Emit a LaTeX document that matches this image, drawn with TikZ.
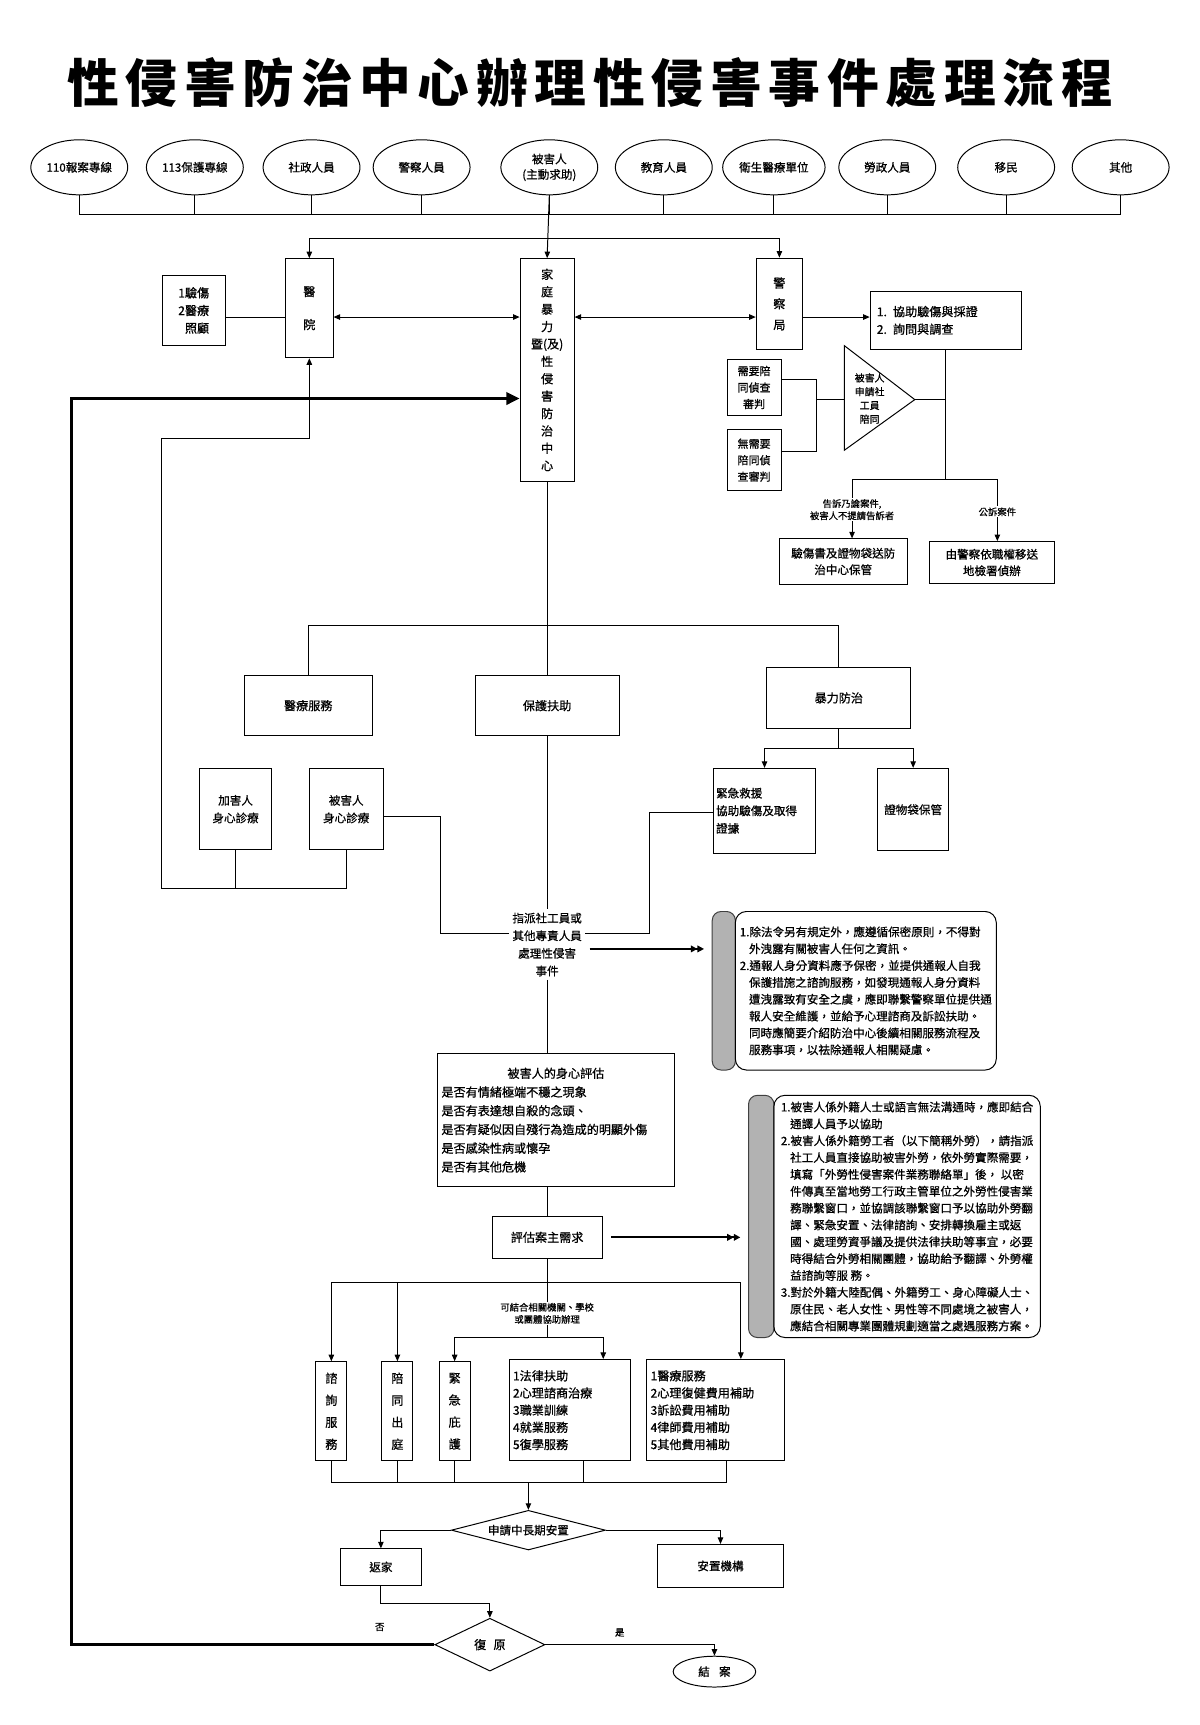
\documentclass[tikz,border=0pt]{standalone}
\usepackage{fontspec}
\setmainfont{Noto Sans CJK TC}[FakeBold=0.7]
\newfontfamily\titlefont{Noto Sans CJK TC}[LetterSpace=13]
\usetikzlibrary{arrows.meta,shapes.geometric}
\begin{document}
\begin{tikzpicture}[x=1pt,y=-1pt,
  every node/.style={font=\fontsize{10.5}{13}\selectfont, inner sep=1pt},
  box/.style={draw, line width=0.9pt, align=center, inner sep=2pt},
  ell/.style={draw, ellipse, line width=0.9pt, minimum width=88pt, minimum height=50pt, inner sep=0pt, align=center},
  ln/.style={line width=0.9pt},
  arr/.style={ln, -{Triangle[length=6pt,width=5pt]}},
  darr/.style={ln, {Triangle[length=6pt,width=5pt]}-{Triangle[length=6pt,width=5pt]}},
  dbl/.style={line width=1.6pt, -{Triangle[length=6pt,width=6pt]Triangle[length=6pt,width=6pt]}},
  fat/.style={line width=2.8pt, line join=miter, -{Triangle[length=12pt,width=11pt]}},
  lbl/.style={fill=white, font=\fontsize{8.5}{11}\selectfont, align=center, inner sep=1pt},
  vt/.style={box, font=\fontsize{11}{20}\selectfont, minimum width=28pt, minimum height=90pt},
  tab/.style={draw=gray!50!black, fill=gray!60, rounded corners=8pt, line width=0.9pt},
  note/.style={draw, line width=0.9pt, rounded corners=10pt, align=left, font=\fontsize{10.5}{15.3}\selectfont},
]
\useasboundingbox (0,0) rectangle (1090,1567);
\fill[white] (0,0) rectangle (1090,1567);

% title
\node[font={\titlefont\bfseries\fontsize{47}{50}\selectfont}] (title) at (536,75) {性侵害防治中心辦理性侵害事件處理流程};

% sources
\node[ell] (e1) at (72,152) {110報案專線};
\node[ell] (e2) at (177,152) {113保護專線};
\node[ell] (e3) at (283,152) {社政人員};
\node[ell] (e4) at (383,152) {警察人員};
\node[ell, font=\fontsize{10.5}{14}\selectfont] (e5) at (499,152) {被害人\\(主動求助)};
\node[ell] (e6) at (603,152) {教育人員};
\node[ell, minimum width=93pt] (e7) at (703,152) {衛生醫療單位};
\node[ell] (e8) at (806,152) {勞政人員};
\node[ell] (e9) at (914,152) {移民};
\node[ell] (e10) at (1018,152) {其他};

\coordinate (bus1) at (0,195);
\coordinate (bus2) at (0,217);
\coordinate (r1) at (0,288);

% top row boxes
\node[box, minimum width=43pt, minimum height=90pt, font=\fontsize{11}{30}\selectfont] (hosp) at (281,280) {醫\\院};
\node[box, minimum width=57pt, minimum height=63pt, align=right, font=\fontsize{11}{16}\selectfont] (care) at (176,282) {1驗傷\\2醫療\\照顧};
\node[box, minimum width=49pt, minimum height=202pt, font=\fontsize{11}{15.8}\selectfont] (fam) at (497,336) {家\\庭\\暴\\力\\暨(及)\\性\\侵\\害\\防\\治\\中\\心};
\node[box, minimum width=42pt, minimum height=83pt, font=\fontsize{11}{19}\selectfont] (police) at (708,276) {警\\察\\局};
\node[box, minimum width=137pt, minimum height=53pt, text width=125pt, align=left, font=\fontsize{11}{16}\selectfont] (inv) at (859,291) {1. 協助驗傷與採證\\2. 詢問與調查};

\foreach \n in {e1,e2,e3,e4,e5,e6,e7,e8,e9,e10} \draw[ln] (\n.south) -- (\n.south |- bus1);
\draw[ln] (e1.south |- bus1) -- (e10.south |- bus1);
\draw[arr] (e5.south) -- (fam.north);
\draw[arr] (e5.south |- bus2) -| (hosp.north);
\draw[arr] (e5.south |- bus2) -| (police.north);

\draw[ln] (care.east |- r1) -- (hosp.west |- r1);
\draw[darr] (hosp.east |- r1) -- (fam.west |- r1);
\draw[darr] (fam.east |- r1) -- (police.west |- r1);
\draw[arr] (police.east |- r1) -- (inv.west |- r1);

% triangle and accompany boxes
\coordinate (tA) at (767,314);
\coordinate (tB) at (767,409);
\coordinate (tip) at (831,363);
\draw[ln, line join=miter] (tA) -- (tip) -- (tB) -- cycle;
\node[font=\fontsize{9}{12.5}\selectfont, align=center] (tritext) at (790,362) {被害人\\申請社\\工員\\陪同};

\node[box, minimum width=49pt, minimum height=51pt, font=\fontsize{10}{15}\selectfont] (need) at (685,352) {需要陪\\同偵查\\審判};
\node[box, minimum width=49pt, minimum height=55pt, font=\fontsize{10}{15}\selectfont] (noneed) at (685,418) {無需要\\陪同偵\\查審判};
\coordinate (bx) at (742,363);
\draw[ln] ([yshift=7pt]need.east) -| (bx);
\draw[ln] ([yshift=8pt]noneed.east) -| (bx);
\draw[ln] (bx) -- (bx -| tA);

\node[box, minimum width=116pt, minimum height=41pt, font=\fontsize{10.5}{15}\selectfont] (caseL) at (766,510) {驗傷書及證物袋送防\\治中心保管};
\node[box, minimum width=113pt, minimum height=38pt, font=\fontsize{10.5}{15}\selectfont] (caseR) at (901,511) {由警察依職權移送\\地檢署偵辦};

\coordinate (br) at (859,436);
\draw[ln] (tip) -- (tip -| inv.south);
\draw[ln] (inv.south) -- (br);
\draw[arr] (br) -| ([xshift=8pt]caseL.north);
\draw[arr] (br) -| ([xshift=5pt]caseR.north);
\node[lbl] (lblL) at (774,463) {告訴乃論案件,\\被害人不提請告訴者};
\node[lbl] (lblR) at (906,465) {公訴案件};

% services
\node[box, minimum width=116pt, minimum height=55pt, font=\fontsize{11}{14}\selectfont] (med) at (280,641) {醫療服務};
\node[box, minimum width=131pt, minimum height=55pt, font=\fontsize{11}{14}\selectfont] (prot) at (497,641) {保護扶助};
\node[box, minimum width=131pt, minimum height=55pt, font=\fontsize{11}{14}\selectfont] (viol) at (762,634) {暴力防治};
\coordinate (bus3) at (0,568);
\draw[ln] (fam.south) -- (prot.north);
\draw[ln] (med.north) |- (viol.north |- bus3) -- (viol.north);

\node[box, minimum width=93pt, minimum height=77pt, text width=88pt, align=left, font=\fontsize{10.5}{16}\selectfont] (emer) at (694.5,736.5) {緊急救援\\協助驗傷及取得\\證據};
\node[box, minimum width=65pt, minimum height=75pt, font=\fontsize{10.5}{14}\selectfont] (bag) at (829.5,735.5) {證物袋保管};
\coordinate (bus4) at (0,680);
\draw[ln] (viol.south) -- (viol.south |- bus4);
\draw[arr] (viol.south |- bus4) -| (emer.north);
\draw[arr] (viol.south |- bus4) -| (bag.north);

\node[box, minimum width=66pt, minimum height=74pt, font=\fontsize{10.5}{16}\selectfont] (perp) at (214,735) {加害人\\身心診療};
\node[box, minimum width=67pt, minimum height=74pt, font=\fontsize{10.5}{16}\selectfont] (vict) at (314.5,735) {被害人\\身心診療};
\coordinate (lc) at (147,807);
\coordinate (lt) at (147,398);
\draw[ln] (perp.south) -- (perp.south |- lc);
\draw[arr] (vict.south) |- (lc) -- (lt) -| (hosp.south);

\node[align=center, font=\fontsize{10.5}{16}\selectfont, inner sep=3pt] (assign) at (497,858) {指派社工員或\\其他專責人員\\處理性侵害\\事件};
\draw[ln] (prot.south) -- (assign.north);
\coordinate (jl1) at (400,742);
\coordinate (jl2) at (400,848);
\coordinate (jr1) at (590,738);
\coordinate (jr2) at (590,848);
\draw[ln] (vict.east |- jl1) -- (jl1) -- (jl2) -- (assign.west |- jl2);
\draw[ln] (emer.west |- jr1) -- (jr1) -- (jr2) -- (assign.east |- jr2);

% note 1
\node[tab, minimum width=21pt, minimum height=144pt] (tab1) at (657.5,900) {};
\node[note, minimum width=237pt, minimum height=144pt] (note1) at (786.5,900) {1.除法令另有規定外，應遵循保密原則，不得對\\\hspace*{0.8em}外洩露有關被害人任何之資訊。\\2.通報人身分資料應予保密，並提供通報人自我\\\hspace*{0.8em}保護措施之諮詢服務，如發現通報人身分資料\\\hspace*{0.8em}遭洩露致有安全之虞，應即聯繫警察單位提供通\\\hspace*{0.8em}報人安全維護，並給予心理諮商及訴訟扶助。\\\hspace*{0.8em}同時應簡要介紹防治中心後續相關服務流程及\\\hspace*{0.8em}服務事項，以祛除通報人相關疑慮。};
\coordinate (ya) at (0,862);
\draw[dbl] ([xshift=4pt]assign.east |- ya) -- ([xshift=-7pt]tab1.west |- ya);

% evaluation
\node[box, minimum width=216pt, minimum height=121pt, text width=208pt, align=left, font=\fontsize{11}{17}\selectfont] (evalb) at (505,1017.5) {\makebox[208pt]{被害人的身心評估}\\是否有情緒極端不穩之現象\\是否有表達想自殺的念頭、\\是否有疑似因自殘行為造成的明顯外傷\\是否感染性病或懷孕\\是否有其他危機};
\draw[ln] (assign.south) -- (assign.south |- evalb.north);
\node[box, minimum width=100pt, minimum height=38pt, font=\fontsize{11}{14}\selectfont] (need2) at (497,1124) {評估案主需求};
\draw[ln] (need2.north |- evalb.south) -- (need2.north);

% note 2
\node[tab, minimum width=23pt, minimum height=220pt] (tab2) at (691.5,1105) {};
\node[note, minimum width=242pt, minimum height=220pt] (note2) at (824,1105) {1.被害人係外籍人士或語言無法溝通時，應即結合\\\hspace*{0.8em}通譯人員予以協助\\2.被害人係外籍勞工者（以下簡稱外勞），請指派\\\hspace*{0.8em}社工人員直接協助被害外勞，依外勞實際需要，\\\hspace*{0.8em}填寫「外勞性侵害案件業務聯絡單」後， 以密\\\hspace*{0.8em}件傳真至當地勞工行政主管單位之外勞性侵害業\\\hspace*{0.8em}務聯繫窗口，並協調該聯繫窗口予以協助外勞翻\\\hspace*{0.8em}譯、緊急安置、法律諮詢、安排轉換雇主或返\\\hspace*{0.8em}國、處理勞資爭議及提供法律扶助等事宜，必要\\\hspace*{0.8em}時得結合外勞相關團體，協助給予翻譯、外勞權\\\hspace*{0.8em}益諮詢等服 務。\\3.對於外籍大陸配偶、外籍勞工、身心障礙人士、\\\hspace*{0.8em}原住民、老人女性、男性等不同處境之被害人，\\\hspace*{0.8em}應結合相關專業團體規劃適當之處遇服務方案。};
\draw[dbl] ([xshift=8pt]need2.east) -- ([xshift=-7pt]tab2.west |- need2.east);

% service boxes
\node[vt] (s1) at (301,1282) {諮\\詢\\服\\務};
\node[vt] (s2) at (361,1282) {陪\\同\\出\\庭};
\node[vt] (s3) at (413,1282) {緊\\急\\庇\\護};
\node[box, minimum width=110pt, minimum height=92pt, text width=104pt, align=left, font=\fontsize{11}{15.6}\selectfont] (s4) at (518,1281) {1法律扶助\\2心理諮商治療\\3職業訓練\\4就業服務\\5復學服務};
\node[box, minimum width=126pt, minimum height=92pt, text width=118pt, align=left, font=\fontsize{11}{15.6}\selectfont] (s5) at (650,1281) {1醫療服務\\2心理復健費用補助\\3訴訟費用補助\\4律師費用補助\\5其他費用補助};

\coordinate (bus5) at (0,1165);
\coordinate (bus6) at (0,1215);
\draw[ln] (need2.south) -- (need2.south |- bus6);
\draw[ln] (s1.north |- bus5) -- ([xshift=23pt]s5.north |- bus5);
\draw[arr] (s1.north |- bus5) -- (s1.north);
\draw[arr] (s2.north |- bus5) -- (s2.north);
\draw[arr] ([xshift=23pt]s5.north |- bus5) -- ([xshift=23pt]s5.north);
\draw[arr] (need2.south |- bus6) -| (s3.north);
\draw[arr] (need2.south |- bus6) -| ([xshift=30pt]s4.north);
\node[lbl] (lblC) at (497,1193) {可結合相關機關、學校\\或團體協助辦理};

% placement
\node[draw, diamond, aspect=3.9, line width=0.9pt, inner sep=0pt, minimum width=140pt, minimum height=36pt, font=\fontsize{10.5}{13}\selectfont] (apply) at (480,1390) {申請中長期安置};
\coordinate (bus7) at (0,1347);
\draw[ln] (s1.south) -- (s1.south |- bus7);
\draw[ln] (s2.south) -- (s2.south |- bus7);
\draw[ln] (s3.south) -- (s3.south |- bus7);
\draw[ln] ([xshift=12pt]s4.south) -- ([xshift=12pt]s4.south |- bus7);
\draw[ln] ([xshift=10pt]s5.south) -- ([xshift=10pt]s5.south |- bus7);
\draw[ln] (s1.south |- bus7) -- ([xshift=10pt]s5.south |- bus7);
\draw[arr] (apply.north |- bus7) -- (apply.north);

\node[box, minimum width=74pt, minimum height=33pt] (home) at (346,1423.5) {返家};
\node[box, minimum width=115pt, minimum height=39pt] (inst) at (654.5,1422.5) {安置機構};
\draw[arr] (apply.west) -| (home.north);
\draw[arr] (apply.east) -| (inst.north);

\node[draw, diamond, aspect=2.08, line width=0.9pt, inner sep=0pt, minimum width=100pt, minimum height=48pt, font=\fontsize{11}{13}\selectfont] (rec) at (445,1494) {復\hspace{0.6em}原};
\coordinate (hr) at (0,1457);
\draw[arr] (home.south) |- (rec.north |- hr) -- (rec.north);

\node[draw, ellipse, line width=0.9pt, minimum width=75pt, minimum height=28pt, inner sep=0pt] (end) at (649,1518.5) {結\hspace{0.8em}案};
\draw[arr] (rec.east) -| (end.north);
\node[font=\fontsize{8.5}{10}\selectfont] (no) at (345,1478) {否};
\node[font=\fontsize{8.5}{10}\selectfont] (yes) at (563,1483) {是};

% feedback
\coordinate (fb) at (65,362);
\draw[fat] (rec.west) -| (fb) -- (fam.west |- fb);
\end{tikzpicture}
\end{document}
